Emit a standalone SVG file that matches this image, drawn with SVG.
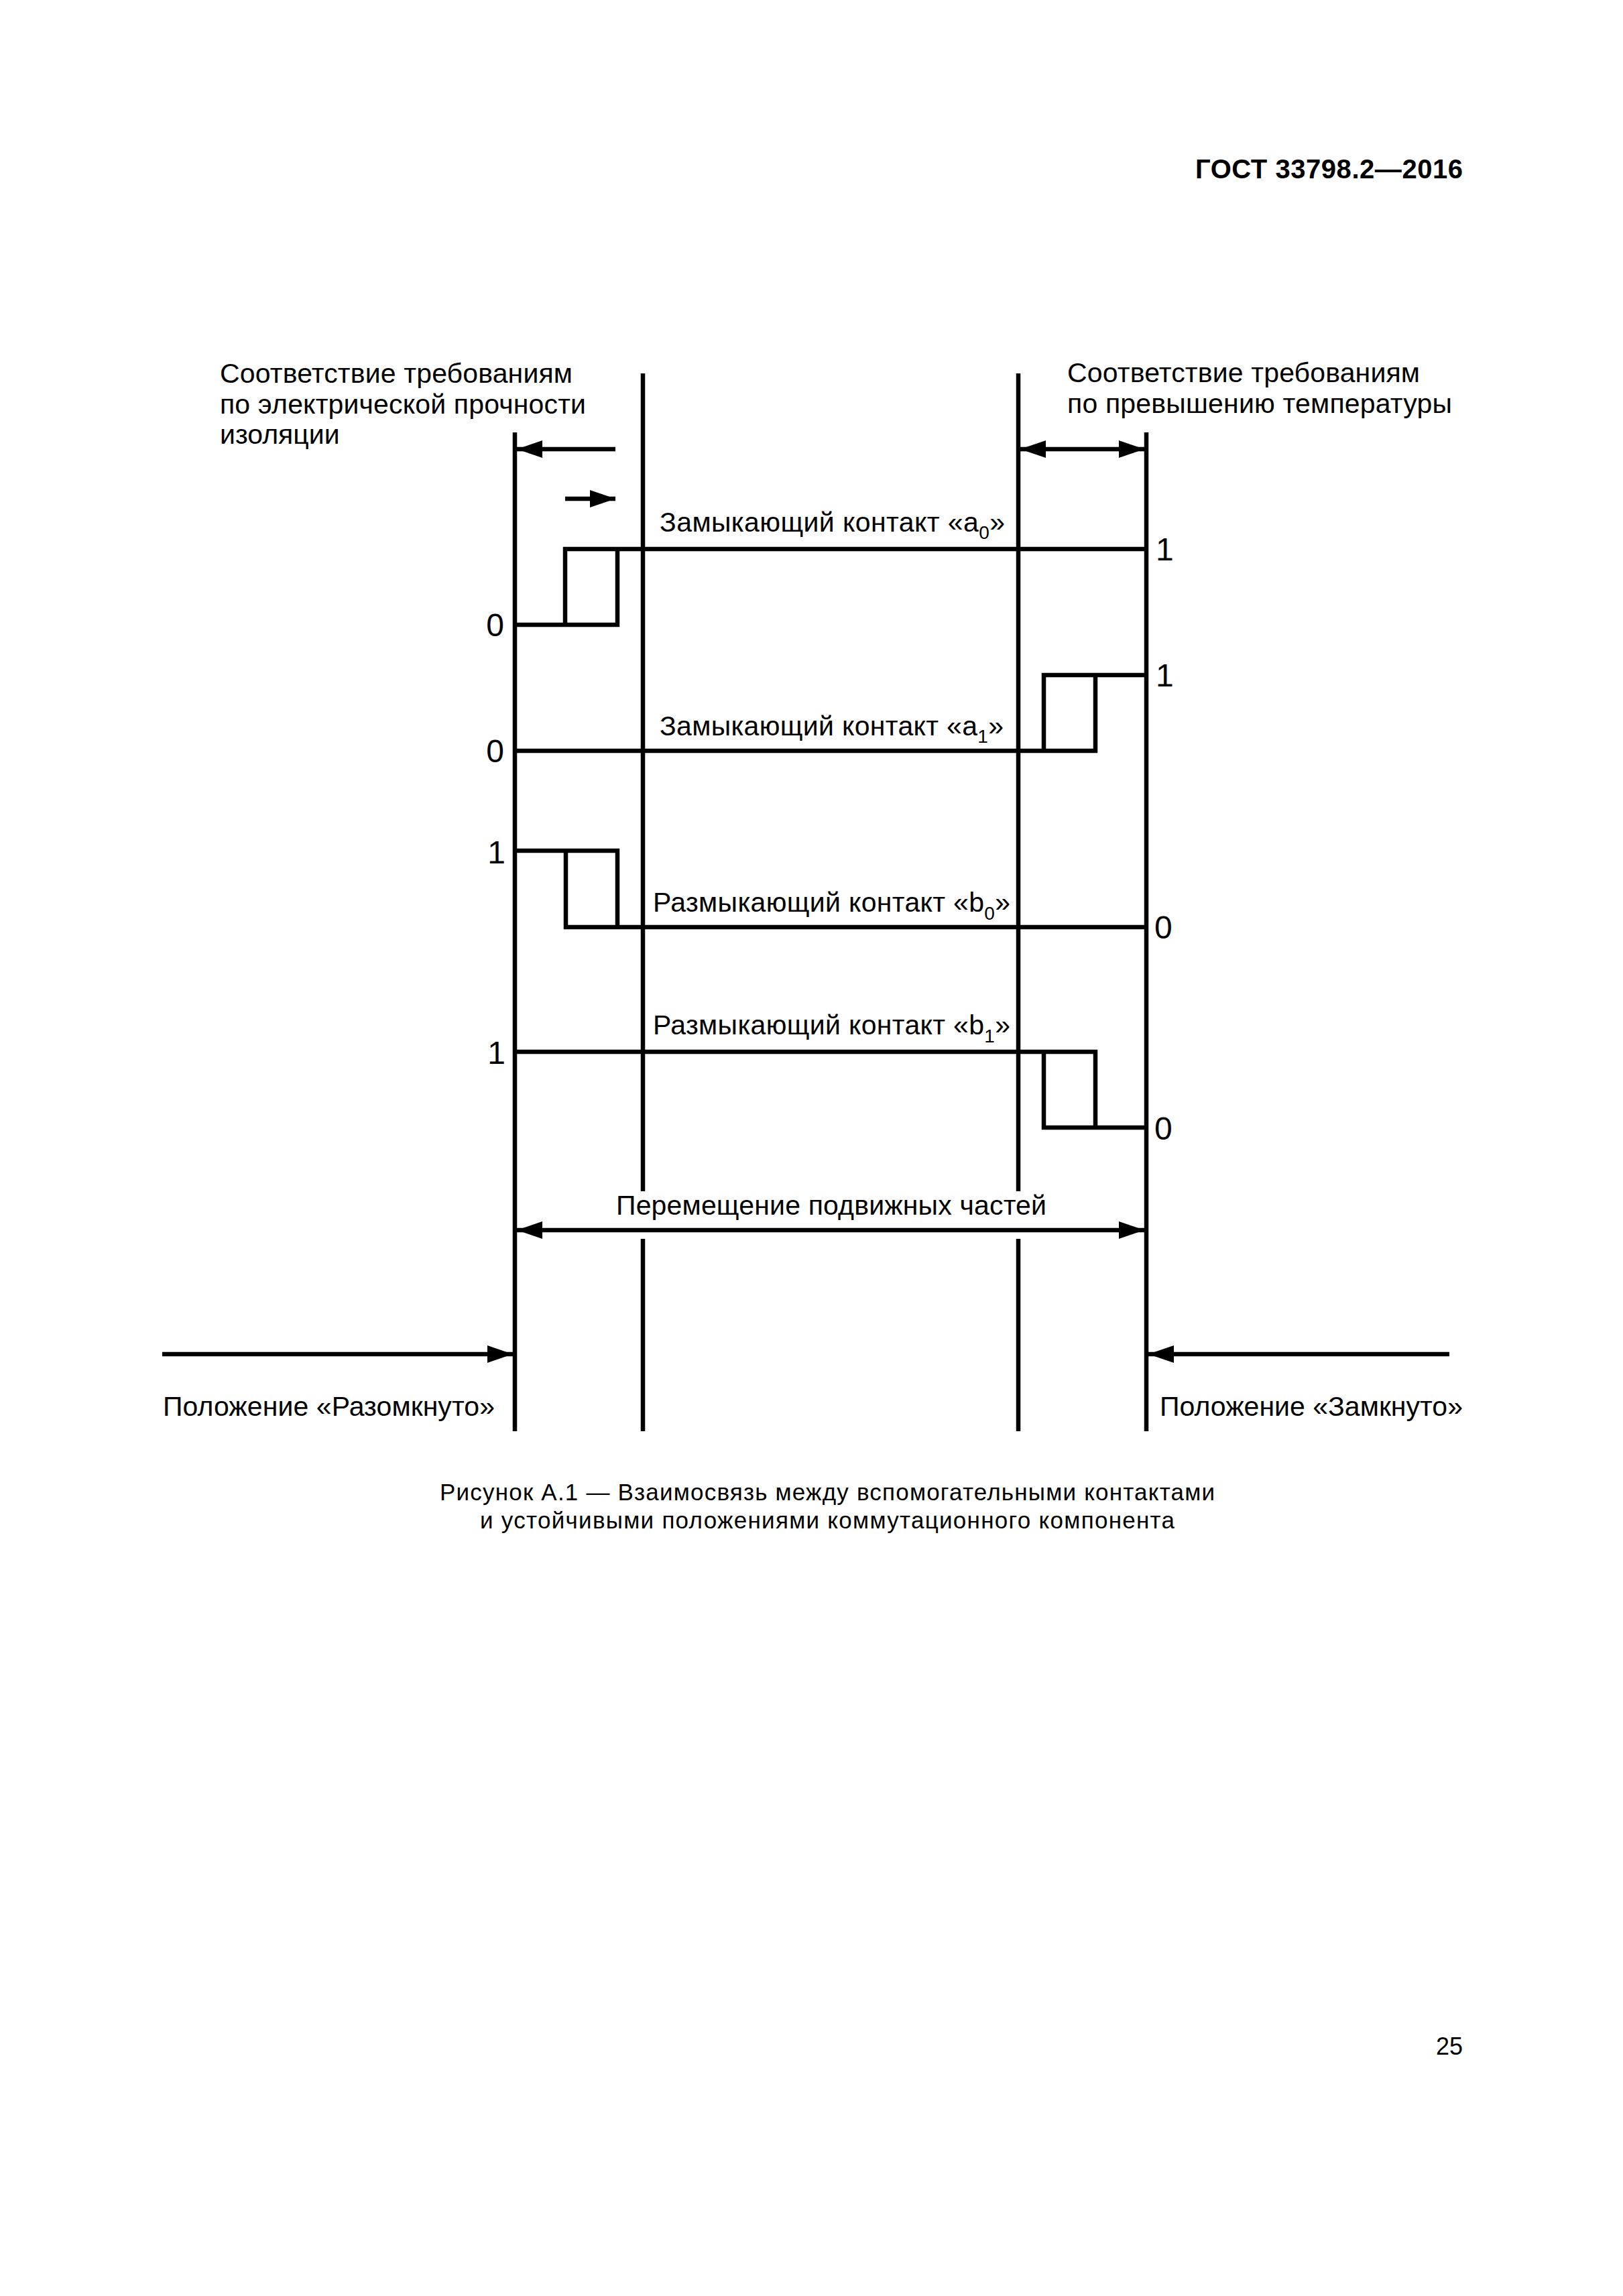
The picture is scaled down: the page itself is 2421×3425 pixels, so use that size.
<svg xmlns="http://www.w3.org/2000/svg" width="2421" height="3425" viewBox="0 0 2421 3425">
<style>
.t{font-family:"Liberation Sans",Arial,sans-serif;font-size:41px;fill:#000}
.d{font-family:"Liberation Sans",Arial,sans-serif;font-size:48px;fill:#000}
.cap{font-family:"Liberation Sans",Arial,sans-serif;font-size:35px;fill:#000}
.ln{stroke:#000;stroke-width:6.5;fill:none}
.ar{stroke:#000;stroke-width:6.5;fill:none;marker-end:url(#ah)}
.ar2{stroke:#000;stroke-width:6.5;fill:none;marker-start:url(#ah);marker-end:url(#ah)}
</style>
<defs>
<marker id="ah" markerUnits="userSpaceOnUse" markerWidth="38" markerHeight="26" refX="38" refY="13" orient="auto-start-reverse">
<path d="M0,0 L38,13 L0,26 Z" fill="#000"/>
</marker>
</defs>
<rect width="2421" height="3425" fill="#fff"/>
<text id="header" x="2182" y="266" text-anchor="end" font-family="Liberation Sans, Arial, sans-serif" font-size="40" font-weight="bold" textLength="399">ГОСТ 33798.2—2016</text>

<g id="guides">
<line class="ln" x1="768" y1="645" x2="768" y2="2135"/>
<line class="ln" x1="1710" y1="645" x2="1710" y2="2135"/>
<path class="ln" d="M959,557 V1777 M959,1848 V2135"/>
<path class="ln" d="M1519,557 V1777 M1519,1848 V2135"/>
</g>

<g id="label-left-top">
<text class="t" x="328" y="571" textLength="526">Соответствие требованиям</text>
<text class="t" x="328" y="617" textLength="546">по электрической прочности</text>
<text class="t" x="328" y="662">изоляции</text>
</g>
<g id="label-right-top">
<text class="t" x="1592" y="570" textLength="526">Соответствие требованиям</text>
<text class="t" x="1592" y="616" textLength="574">по превышению температуры</text>
</g>

<g id="contact-a0">
<path class="ln" d="M768,932 H921 V819 M843,932 V819 H1710"/>
<text class="t" x="984" y="793" textLength="515">Замыкающий контакт «a<tspan font-size="28" dy="11">0</tspan><tspan dy="-11">»</tspan></text>
<text class="d" x="752" y="949" text-anchor="end">0</text>
<text class="d" x="1724" y="836">1</text>
</g>

<g id="contact-a1">
<path class="ln" d="M768,1120 H1634 V1007 M1557,1120 V1007 H1710"/>
<text class="t" x="984" y="1097" textLength="513">Замыкающий контакт «a<tspan font-size="28" dy="11">1</tspan><tspan dy="-11">»</tspan></text>
<text class="d" x="752" y="1137" text-anchor="end">0</text>
<text class="d" x="1724" y="1024">1</text>
</g>

<g id="contact-b0">
<path class="ln" d="M768,1269 H921 V1383 M844,1269 V1383 H1710"/>
<text class="t" x="974" y="1360" textLength="533">Размыкающий контакт «b<tspan font-size="28" dy="12">0</tspan><tspan dy="-12">»</tspan></text>
<text class="d" x="754" y="1288" text-anchor="end">1</text>
<text class="d" x="1722" y="1400">0</text>
</g>

<g id="contact-b1">
<path class="ln" d="M768,1569 H1634 V1682 M1557,1569 V1682 H1710"/>
<text class="t" x="974" y="1543" textLength="533">Размыкающий контакт «b<tspan font-size="28" dy="12">1</tspan><tspan dy="-12">»</tspan></text>
<text class="d" x="754" y="1587" text-anchor="end">1</text>
<text class="d" x="1722" y="1700">0</text>
</g>

<g id="movement">
<text class="t" x="919" y="1812" textLength="642">Перемещение подвижных частей</text>
</g>

<g id="pos-open">
<text class="t" x="243" y="2112" textLength="495">Положение «Разомкнуто»</text>
</g>
<g id="pos-closed">
<text class="t" x="1730" y="2112" textLength="452">Положение «Замкнуто»</text>
</g>

<g id="connectors">
<line class="ar" x1="918" y1="670" x2="771" y2="670"/>
<line class="ar" x1="843" y1="744" x2="918" y2="744"/>
<line class="ar2" x1="1522" y1="670" x2="1707" y2="670"/>
<line class="ar2" x1="771" y1="1835" x2="1707" y2="1835"/>
<line class="ar" x1="242" y1="2020" x2="765" y2="2020"/>
<line class="ar" x1="2162" y1="2020" x2="1713" y2="2020"/>
</g>

<g id="caption">
<text class="cap" x="1234" y="2238" text-anchor="middle" textLength="1156">Рисунок А.1 — Взаимосвязь между вспомогательными контактами</text>
<text class="cap" x="1234" y="2280" text-anchor="middle" textLength="1036">и устойчивыми положениями коммутационного компонента</text>
</g>

<text id="page-number" x="2182" y="3065" text-anchor="end" font-family="Liberation Sans, Arial, sans-serif" font-size="36">25</text>
</svg>
